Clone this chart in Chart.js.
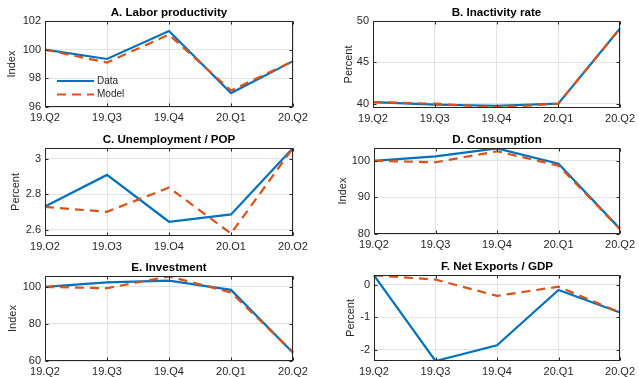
<!DOCTYPE html>
<html><head><meta charset="utf-8">
<script src="https://cdn.jsdelivr.net/npm/chart.js@4.4.1/dist/chart.umd.min.js"></script>
<style>
html,body{margin:0;padding:0;background:#fff;}
body{width:639px;height:377px;position:relative;overflow:hidden;}
canvas{position:absolute;}
</style></head><body>
<canvas id="cA" width="320" height="125" style="left:0;top:0"></canvas>
<canvas id="cB" width="319" height="125" style="left:320px;top:0"></canvas>
<canvas id="cC" width="320" height="125" style="left:0;top:125px"></canvas>
<canvas id="cD" width="319" height="125" style="left:320px;top:125px"></canvas>
<canvas id="cE" width="320" height="127" style="left:0;top:250px"></canvas>
<canvas id="cF" width="319" height="127" style="left:320px;top:250px"></canvas>
<script>
// ---------- data ----------
const quarters = ['19.Q2', '19.Q3', '19.Q4', '20.Q1', '20.Q2'];
const seriesNames = ['Data', 'Model'];

const laborTitle = 'A. Labor productivity';
const laborData  = [100, 99.35, 101.3, 96.97, 99.2];
const laborModel = [100, 99.1, 101.05, 97.15, 99.2];
const laborTicks = [96, 98, 100, 102];

const inactTitle = 'B. Inactivity rate';
const inactData  = [40.2, 39.9, 39.75, 40.0, 49.1];
const inactModel = [40.2, 40.0, 39.55, 40.0, 49.1];
const inactTicks = [40, 45, 50];

const unempTitle = 'C. Unemployment / POP';
const unempData  = [2.732, 2.909, 2.646, 2.687, 3.06];
const unempModel = [2.729, 2.702, 2.838, 2.58, 3.06];
const unempTicks = [2.6, 2.8, 3];

const consTitle = 'D. Consumption';
const consData  = [100, 101.2, 103.4, 99.2, 81.4];
const consModel = [100, 99.6, 102.6, 98.7, 81.3];
const consTicks = [80, 90, 100];

const invTitle = 'E. Investment';
const invData  = [100, 102.5, 103.4, 98.4, 64.5];
const invModel = [100, 99.3, 105.7, 97.0, 64.8];
const invTicks = [60, 80, 100];

const nxTitle = 'F. Net Exports / GDP';
const nxData  = [0.29, -2.34, -1.86, -0.16, -0.85];
const nxModel = [0.29, 0.16, -0.34, -0.06, -0.85];
const nxTicks = [-2, -1, 0];

// ---------- style ----------
Chart.defaults.font.family = '"Liberation Sans", Arial, Helvetica, sans-serif';
Chart.defaults.font.size = 11;
Chart.defaults.color = '#262626';

const BLUE = '#0072BD', ORANGE = '#D95319', DASH = [9, 6];

const framePlugin = {
  id: 'frame',
  afterDraw(chart, args, o) {
    const ctx = chart.ctx, a = chart.chartArea;
    const xs = chart.scales.x, ys = chart.scales.y;
    const L = Math.round(a.left) + 0.5, R = Math.round(a.right) - 0.5;
    const T = Math.round(a.top) + 0.5, B = Math.round(a.bottom) - 0.5;
    ctx.save();
    ctx.strokeStyle = '#262626';
    ctx.lineWidth = 1;
    ctx.setLineDash([]);
    ctx.strokeRect(L, T, R - L, B - T);
    ctx.beginPath();
    ys.ticks.forEach(t => {
      const py = Math.round(ys.getPixelForValue(t.value)) + 0.5;
      ctx.moveTo(L, py); ctx.lineTo(L + 3, py);
      ctx.moveTo(R, py); ctx.lineTo(R - 3, py);
    });
    quarters.forEach((q, i) => {
      const px = Math.round(xs.getPixelForValue(i)) + 0.5;
      ctx.moveTo(px, B); ctx.lineTo(px, B - 3);
      ctx.moveTo(px, T); ctx.lineTo(px, T + 3);
    });
    ctx.stroke();
    // title
    ctx.fillStyle = '#000';
    ctx.font = 'bold 11.6px "Liberation Sans", Arial, sans-serif';
    ctx.textAlign = 'center';
    ctx.textBaseline = 'middle';
    ctx.fillText(o.title, (a.left + a.right) / 2, a.top - 8);
    // legend
    if (o.legend) {
      const lx = a.left + 12, ly = a.top + 60;
      ctx.font = '10px "Liberation Sans", Arial, sans-serif';
      ctx.textAlign = 'left';
      ctx.fillStyle = '#262626';
      chart.data.datasets.forEach((d, i) => {
        const y = ly + i * 13.5;
        ctx.beginPath();
        ctx.strokeStyle = d.borderColor;
        ctx.lineWidth = d.borderWidth;
        ctx.setLineDash(d.borderDash || []);
        ctx.moveTo(lx, y); ctx.lineTo(lx + 37, y);
        ctx.stroke();
        ctx.fillText(d.label, lx + 40, y);
      });
    }
    ctx.restore();
  }
};

function makeChart(id, title, data, model, ticks, ymin, ymax, yLabel, lay) {
  return new Chart(document.getElementById(id), {
    type: 'line',
    data: {
      labels: quarters,
      datasets: [
        { label: seriesNames[0], data: data, borderColor: BLUE, borderWidth: 2.2, pointRadius: 0, tension: 0, order: 1 },
        { label: seriesNames[1], data: model, borderColor: ORANGE, borderWidth: 2.2, borderDash: DASH, pointRadius: 0, tension: 0, order: 0 }
      ]
    },
    options: {
      responsive: false,
      animation: false,
      layout: { padding: { top: lay.top, right: lay.right, left: 0, bottom: 0 } },
      plugins: {
        legend: { display: false },
        tooltip: { enabled: false },
        frame: { title: title, legend: lay.legend || false }
      },
      scales: {
        x: {
          offset: false,
          grid: { color: '#e3e3e3', drawTicks: false },
          border: { display: false },
          ticks: { autoSkip: false, maxRotation: 0, padding: 4, color: '#262626' },
          afterFit: s => { s.height = lay.xh; }
        },
        y: {
          min: ymin, max: ymax,
          grid: { color: '#e3e3e3', drawTicks: false },
          border: { display: false },
          ticks: { padding: 4, color: '#262626', callback: v => String(v) },
          afterBuildTicks: s => { s.ticks = ticks.map(v => ({ value: v })); },
          afterFit: s => { s.width = lay.yw; },
          title: { display: true, text: yLabel, color: '#262626', font: { size: 11 }, padding: { top: lay.tp, bottom: 0 } }
        }
      }
    },
    plugins: [framePlugin]
  });
}

makeChart('cA', laborTitle, laborData, laborModel, laborTicks, 96, 102, 'Index',
  { top: 21, right: 27, xh: 18, yw: 45, tp: 5.4, legend: true });
makeChart('cB', inactTitle, inactData, inactModel, inactTicks, 39.48, 50, 'Percent',
  { top: 21, right: 16, xh: 17, yw: 53, tp: 22.4 });
makeChart('cC', unempTitle, unempData, unempModel, unempTicks, 2.566, 3.06, 'Percent',
  { top: 23, right: 27, xh: 14, yw: 45, tp: 9.4 });
makeChart('cD', consTitle, consData, consModel, consTicks, 80, 103.5, 'Index',
  { top: 23, right: 16, xh: 16, yw: 54, tp: 15.9 });
makeChart('cE', invTitle, invData, invModel, invTicks, 60, 105.9, 'Index',
  { top: 26, right: 27, xh: 16, yw: 45, tp: 5.9 });
makeChart('cF', nxTitle, nxData, nxModel, nxTicks, -2.34, 0.3, 'Percent',
  { top: 25, right: 16, xh: 16, yw: 54, tp: 24.4 });
</script>
</body></html>
